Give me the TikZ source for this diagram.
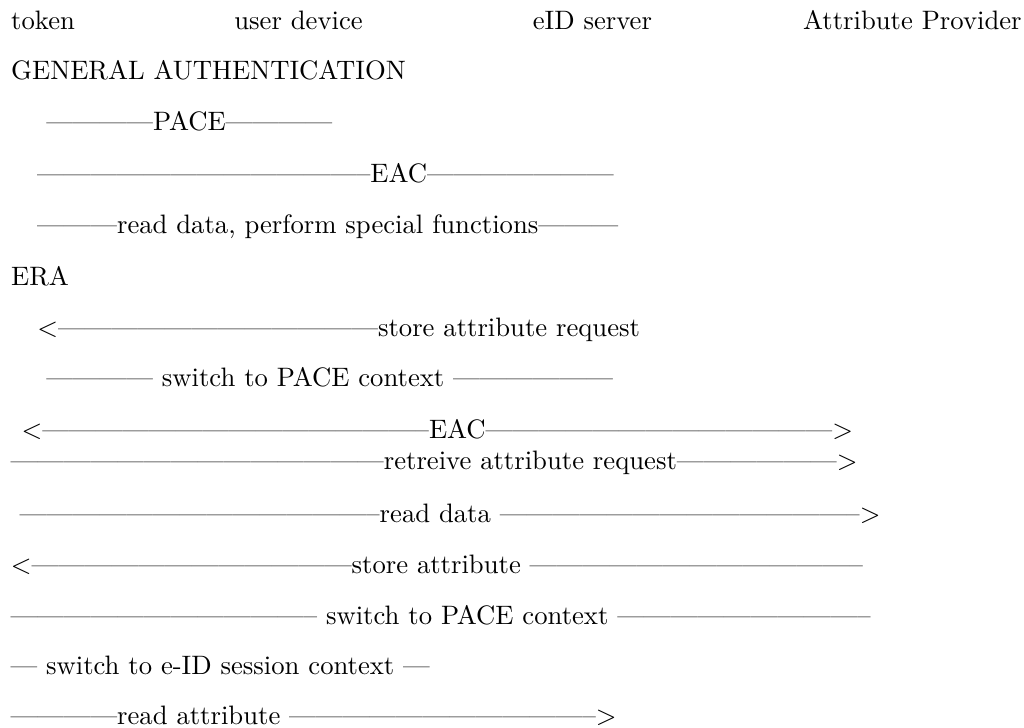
\documentclass[tikz,border=0pt]{standalone}
\usetikzlibrary{positioning}

\newcommand{\dashrun}[1]{\foreach \k in {1,...,#1}{\textemdash}}

\begin{document}
\begin{tikzpicture}[x=1pt,y=1pt,
	Party/.style={anchor=base west,inner sep=0pt},
	Phase/.style={anchor=base west,inner sep=0pt},
	Msg/.style={anchor=base west,inner sep=0pt},
]
	\useasboundingbox (0,0) rectangle (384,-273);
	% participants
	\node[Party] (token) at (4,-10.9) {token};
	\node[Party] (device) at (87.7,-10.9) {user device};
	\node[Party] (server) at (199.6,-10.9) {eID server};
	\node[Party] (provider) at (301,-10.9) {Attribute Provider};

	\node[Phase] (general) at (4,-30) {GENERAL AUTHENTICATION};
	\node[Msg] (pace) at (17.2,-49) {\dashrun{4}PACE\dashrun{4}};
	\node[Msg] (eac) at (13.7,-68.4) {\dashrun{12}\textendash EAC\dashrun{7}};
	\node[Msg] (readfn) at (13.7,-87.5) {\dashrun{3}read data, perform special functions\dashrun{3}};

	\node[Phase] (era) at (4,-106.9) {ERA};
	\node[Msg] (storereq) at (13.8,-126) {$<$\dashrun{12}store attribute request};
	\node[Msg] (switchA) at (17.2,-145) {\dashrun{4} switch to PACE context \dashrun{6}};
	\node[Msg] (eacB) at (7.9,-164.4) {$<$\dashrun{14}\textendash EAC\dashrun{13}$>$};
	\node[Msg] (retrieve) at (3.75,-176.2) {\dashrun{14}retreive attribute request\dashrun{6}$>$};
	\node[Msg] (readdata) at (7.2,-195.9) {\dashrun{13}\textendash read data \dashrun{13}\textendash$>$};
	\node[Msg] (storeattr) at (3.9,-214.9) {$<$\dashrun{12}store attribute \dashrun{12}\textendash};
	\node[Msg] (switchB) at (3.75,-234) {\dashrun{11}\textendash{} switch to PACE context \dashrun{9}\textendash};
	\node[Msg] (session) at (3.75,-253.1) {\dashrun{1} switch to e-ID session context \dashrun{1}};
	\node[Msg] (readattr) at (3.75,-271.6) {\dashrun{4}read attribute \dashrun{11}\textendash$>$};
\end{tikzpicture}
\end{document}
